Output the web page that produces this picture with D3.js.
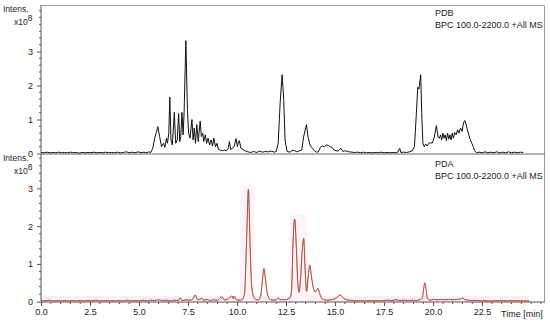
<!DOCTYPE html>
<html><head><meta charset="utf-8">
<script src="https://cdn.jsdelivr.net/npm/d3@7"></script>
<style>body{margin:0;background:#fff}svg{display:block;font-family:"Liberation Sans",Arial,sans-serif}</style>
</head><body><svg id="c" width="550" height="322"></svg>
<script>
// time [min], intensity [x10^8]
const pdbTime = [0.0,0.15,0.3,0.45,0.6,0.75,0.9,1.05,1.2,1.35,1.5,1.65,1.8,1.95,2.1,2.25,2.4,2.55,2.7,2.85,3.0,3.15,3.3,3.45,3.6,3.75,3.9,4.05,4.2,4.35,4.5,4.65,4.8,4.95,5.1,5.25,5.4,5.5,5.6,
5.7,5.8,5.9,5.96,6.05,6.15,6.25,6.32,6.4,6.45,6.52,6.57,6.63,6.7,6.8,6.87,6.95,7.02,7.08,7.13,7.19,7.25,7.3,7.39,7.47,7.53,7.6,7.7,7.76,7.82,7.88,7.95,8.02,8.12,8.18,8.25,8.3,8.38,8.45,8.52,8.6,8.68,8.75,8.82,8.9,8.98,9.05,9.15,9.25,9.35,9.45,9.55,9.61,9.68,9.75,9.85,9.95,10.02,10.08,10.12,10.2,10.3,10.4,10.55,10.7,10.85,11.0,11.15,11.3,11.45,11.6,11.75,11.9,12.0,12.1,12.2,12.3,12.38,12.45,12.55,12.7,12.85,12.95,13.05,13.15,13.3,13.4,13.54,13.62,13.72,13.85,13.95,14.05,14.15,14.25,14.35,14.45,14.55,14.65,14.75,14.85,14.95,15.05,15.15,15.3,15.4,15.55,15.7,15.85,16.0,16.15,16.3,16.45,16.6,16.75,16.9,17.05,17.2,17.35,17.5,17.65,17.8,17.95,18.1,18.2,18.3,18.36,18.5,18.65,18.8,18.95,19.05,19.15,19.22,19.28,19.37,19.42,19.48,19.55,19.62,19.7,19.78,19.86,19.95,20.05,20.17,20.25,20.32,20.38,20.44,20.5,20.56,20.62,20.68,20.74,20.8,20.86,20.92,20.98,21.04,21.1,21.18,21.25,21.32,21.4,21.48,21.55,21.62,21.69,21.75,21.82,21.9,21.98,22.05,22.12,22.22,22.35,22.5,22.65,22.8,22.95,23.1,23.25,23.4,23.55,23.7,23.85,24.0,24.15,24.3,24.45,24.6];
const pdbValue = [0.03,0.02,0.04,0.02,0.03,0.02,0.04,0.02,0.03,0.02,0.04,0.02,0.03,0.01,0.03,0.02,0.03,0.02,0.04,0.02,0.03,0.02,0.04,0.02,0.03,0.02,0.04,0.02,0.03,0.05,0.02,0.04,0.02,0.05,0.02,0.04,0.02,0.05,0.03,
0.15,0.45,0.65,0.79,0.5,0.2,0.3,0.18,0.45,0.3,0.6,1.66,0.4,0.25,1.21,0.3,0.4,1.18,0.35,0.5,1.21,0.55,1.2,3.32,1.3,0.6,0.45,1.0,0.4,0.75,0.3,0.85,0.35,0.95,0.5,0.6,0.35,0.55,0.3,0.45,0.25,0.4,0.22,0.45,0.2,0.3,0.12,0.1,0.08,0.1,0.08,0.15,0.35,0.12,0.15,0.2,0.44,0.2,0.35,0.38,0.15,0.12,0.08,0.05,0.03,0.06,0.03,0.07,0.04,0.06,0.05,0.07,0.04,0.06,0.3,1.5,2.32,1.6,0.4,0.06,0.04,0.1,0.08,0.05,0.07,0.1,0.5,0.85,0.5,0.25,0.15,0.08,0.04,0.05,0.18,0.22,0.2,0.25,0.24,0.2,0.18,0.1,0.08,0.07,0.15,0.06,0.08,0.05,0.04,0.03,0.04,0.02,0.04,0.02,0.03,0.02,0.03,0.02,0.04,0.02,0.03,0.02,0.03,0.02,0.04,0.15,0.03,0.04,0.03,0.05,0.08,0.2,1.2,1.95,1.9,2.32,1.2,0.3,0.2,0.28,0.22,0.3,0.32,0.3,0.45,0.82,0.5,0.45,0.55,0.4,0.6,0.45,0.55,0.38,0.6,0.42,0.55,0.4,0.6,0.45,0.62,0.55,0.7,0.6,0.75,0.65,0.9,0.97,0.85,0.7,0.55,0.4,0.3,0.2,0.08,0.02,0.04,0.02,0.05,0.02,0.04,0.02,0.05,0.02,0.04,0.02,0.05,0.02,0.04,0.02,0.04,0.03];

const pdaTime = [0.0,0.2,0.4,0.6,0.8,1.0,1.2,1.4,1.6,1.8,2.0,2.2,2.4,2.6,2.8,3.0,3.2,3.4,3.6,3.8,4.0,4.2,4.4,4.6,4.8,5.0,5.2,5.4,5.6,5.8,6.0,6.2,6.4,6.6,6.8,7.0,7.1,7.2,7.4,7.6,7.75,7.87,7.95,8.05,8.2,8.3,8.5,8.6,8.8,9.0,9.22,9.35,9.5,9.62,9.73,9.8,9.86,9.95,10.1,10.25,10.38,10.48,10.58,10.66,10.75,10.85,10.95,11.1,11.22,11.3,11.37,11.45,11.55,11.7,11.85,12.0,12.1,12.2,12.35,12.5,12.6,12.7,12.78,12.86,12.94,13.02,13.1,13.16,13.24,13.32,13.4,13.47,13.55,13.62,13.71,13.8,13.9,13.98,14.05,14.13,14.2,14.3,14.45,14.6,14.8,15.0,15.15,15.25,15.35,15.5,15.7,15.9,16.1,16.3,16.5,16.7,16.9,17.1,17.3,17.5,17.7,17.9,18.1,18.3,18.5,18.7,18.9,19.1,19.3,19.45,19.52,19.58,19.65,19.72,19.85,20.0,20.2,20.4,20.6,20.8,21.0,21.2,21.4,21.52,21.6,21.8,22.0,22.2,22.4,22.6,22.8,23.0,23.2,23.4,23.6,23.8,24.0,24.2,24.4,24.6,24.9];
const pdaValue = [0.03,0.02,0.04,0.02,0.03,0.02,0.03,0.02,0.03,0.02,0.03,0.02,0.03,0.02,0.04,0.02,0.03,0.02,0.03,0.02,0.03,0.02,0.04,0.02,0.03,0.02,0.04,0.02,0.04,0.03,0.05,0.03,0.04,0.02,0.04,0.03,0.1,0.03,0.05,0.04,0.08,0.18,0.08,0.05,0.09,0.04,0.06,0.03,0.05,0.04,0.13,0.05,0.06,0.1,0.15,0.08,0.15,0.06,0.04,0.05,0.2,1.5,2.97,1.6,0.4,0.12,0.06,0.05,0.2,0.6,0.88,0.6,0.2,0.06,0.04,0.05,0.1,0.05,0.06,0.05,0.08,0.1,0.3,1.6,2.19,1.5,0.5,0.25,0.6,1.3,1.68,0.9,0.27,0.6,0.97,0.65,0.35,0.25,0.3,0.35,0.25,0.1,0.05,0.04,0.05,0.08,0.14,0.18,0.14,0.07,0.04,0.03,0.02,0.03,0.02,0.03,0.02,0.03,0.02,0.03,0.04,0.03,0.05,0.03,0.04,0.03,0.04,0.03,0.05,0.1,0.35,0.5,0.3,0.08,0.04,0.06,0.05,0.06,0.05,0.06,0.05,0.06,0.07,0.1,0.06,0.04,0.03,0.03,0.02,0.03,0.02,0.02,0.03,0.02,0.03,0.02,0.03,0.02,0.03,0.02,0.02];

// highlighted (integrated) regions in PDA trace: [start, end, height]
const hlStart = [0.0, 10.15, 12.7];
const hlEnd = [24.9, 10.9, 13.6];
const hlHeight = [0.15, 3.08, 2.29];

const xMajorTicks = [0, 2.5, 5, 7.5, 10, 12.5, 15, 17.5, 20, 22.5];
const yMajorTicksTop = [0, 1, 2, 3];
const yMajorTicksBottom = [0, 1, 2, 3];
const panelTitles = ["PDB", "PDA"];
const traceLabel = "BPC 100.0-2200.0 +All MS";

const svg = d3.select("#c");
const L = 41, R = 545;
const x = d3.scaleLinear().domain([0, 25.71]).range([L, R]);
const yTop = d3.scaleLinear().domain([0, 4.37]).range([153.5, 5]);
const yBot = d3.scaleLinear().domain([0, 3.91]).range([301.7, 154]);

const axisCol = "#555", frameCol = "#999", txtCol = "#222";

// highlights
const hl = hlStart.map((s, i) => ({s, e: hlEnd[i], h: hlHeight[i]}));
svg.append("g").selectAll("rect").data(hl).join("rect")
  .attr("x", d => x(d.s)).attr("width", d => x(d.e) - x(d.s))
  .attr("y", d => yBot(d.h)).attr("height", d => yBot(0) - yBot(d.h))
  .attr("fill", (d, i) => i === 0 ? "#fdeef4" : "#fef3f7");

// frame
svg.append("line").attr("x1", L).attr("x2", R).attr("y1", 5.5).attr("y2", 5.5).attr("stroke", frameCol);
svg.append("line").attr("x1", R - 0.5).attr("x2", R - 0.5).attr("y1", 5).attr("y2", 302).attr("stroke", frameCol);
svg.append("line").attr("x1", L).attr("x2", R).attr("y1", 154).attr("y2", 154).attr("stroke", "#666");

// y axes
function yAxis(scale, majors, maxV) {
  const g = svg.append("g").attr("transform", `translate(${L},0)`);
  const minors = d3.range(0, maxV + 1e-9, 0.2).filter(v => !majors.some(m => Math.abs(m - v) < 1e-6));
  g.call(d3.axisLeft(scale).tickValues(majors).tickFormat(d3.format("d")).tickSize(4).tickPadding(4));
  g.selectAll(".minor").data(minors).join("line").attr("class", "minor")
    .attr("x1", -2).attr("x2", 0).attr("y1", d => scale(d)).attr("y2", d => scale(d)).attr("stroke", axisCol);
  g.select(".domain").attr("stroke", axisCol).attr("d", `M0,${scale.range()[1]}V${scale.range()[0]}`);
  g.selectAll(".tick line").attr("stroke", axisCol);
  g.selectAll(".tick text").attr("font-size", 9).attr("fill", txtCol).attr("font-family", "Liberation Sans, Arial, sans-serif");
}
yAxis(yTop, yMajorTicksTop, 4.2);
yAxis(yBot, yMajorTicksBottom, 3.8);

// x axis
const xg = svg.append("g").attr("transform", "translate(0,302)");
xg.call(d3.axisBottom(x).tickValues(xMajorTicks).tickFormat(d3.format(".1f")).tickSize(4).tickPadding(3));
xg.select(".domain").attr("stroke", axisCol).attr("d", `M${L},0H${R}`);
xg.selectAll(".tick line").attr("stroke", axisCol);
xg.selectAll(".tick text").attr("font-size", 9).attr("fill", txtCol).attr("font-family", "Liberation Sans, Arial, sans-serif");
const xMinor = d3.range(0, 25.6, 0.5).filter(v => !xMajorTicks.includes(v));
xg.selectAll(".minor").data(xMinor).join("line").attr("class", "minor")
  .attr("x1", d => x(d)).attr("x2", d => x(d)).attr("y1", 0).attr("y2", 2).attr("stroke", axisCol);
svg.append("text").attr("x", 501).attr("y", 317).attr("font-size", 9).attr("fill", txtCol).text("Time [min]");

// axis labels
function intensLabel(y0) {
  svg.append("text").attr("x", 3).attr("y", y0).attr("font-size", 8.5).attr("fill", txtCol).text("Intens.");
  const t = svg.append("text").attr("x", 14).attr("y", y0 + 13).attr("font-size", 8.5).attr("fill", txtCol);
  t.append("tspan").text("x10");
  t.append("tspan").attr("dy", -4).attr("font-size", 8.5).text("8");
}
intensLabel(12);
intensLabel(161);

// titles
[[panelTitles[0], 16], [panelTitles[1], 167]].forEach(([t, y0]) => {
  svg.append("text").attr("x", 435).attr("y", y0).attr("font-size", 9).attr("fill", txtCol).text(t);
  svg.append("text").attr("x", 435).attr("y", y0 + 12).attr("font-size", 9).attr("fill", txtCol).text(traceLabel);
});

// traces
const pdb = pdbTime.map((t, i) => [t, pdbValue[i]]);
const pda = pdaTime.map((t, i) => [t, pdaValue[i]]);
svg.append("path").datum(pdb)
  .attr("d", d3.line().x(d => x(d[0])).y(d => yTop(d[1])))
  .attr("fill", "none").attr("stroke", "#111").attr("stroke-width", 1).attr("stroke-linejoin", "round");
svg.append("path").datum(pda)
  .attr("d", d3.line().curve(d3.curveMonotoneX).x(d => x(d[0])).y(d => yBot(d[1])))
  .attr("fill", "none").attr("stroke", "#d9463a").attr("stroke-width", 1);
svg.append("path").datum(pda)
  .attr("d", d3.line().curve(d3.curveMonotoneX).x(d => x(d[0])).y(d => yBot(d[1])))
  .attr("fill", "none").attr("stroke", "#7a5a3a").attr("stroke-width", 0.8).attr("opacity", 0.6);
</script></body></html>
